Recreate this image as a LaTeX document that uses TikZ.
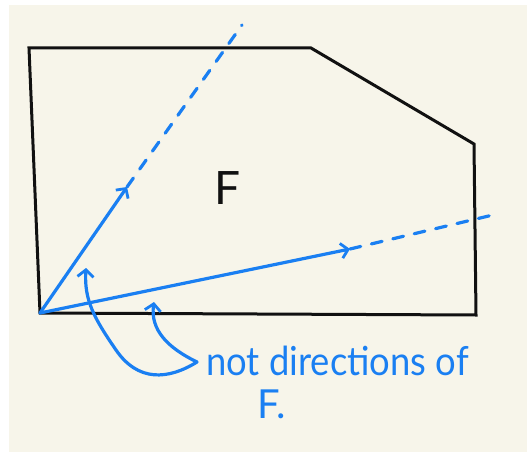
\documentclass[tikz,border=0pt]{standalone}
\usepackage{fontspec}
\setmainfont{Lato}
\usetikzlibrary{positioning,arrows.meta}
\definecolor{paper}{HTML}{F7F5EA}
\definecolor{pen}{HTML}{1A7FF2}
\definecolor{ink}{HTML}{111111}

\begin{document}
\begin{tikzpicture}[x=1pt,y=-1pt,
    edge/.style={draw=ink,line width=3pt,line join=miter},
    ray/.style={draw=pen,line width=3.2pt,line cap=round,-{Straight Barb[length=7pt,width=15pt,line width=2.8pt]}},
    raydash/.style={draw=pen,line width=3.2pt,line cap=round,dash pattern=on 11pt off 11pt},
    note/.style={draw=pen,line width=3.2pt,line cap=round,-{Straight Barb[length=7pt,width=16pt,line width=2.8pt]}},
    hand/.style={text=pen,inner sep=0pt,font=\fontsize{40}{44}\selectfont}]
  \useasboundingbox (0,0) rectangle (527,452);
  \fill[white] (0,0) rectangle (527,452);
  \fill[paper] (9,5) rectangle (527,452);

  % the face F
  \draw[edge] (29,48) -- (311,48) -- (474,144) -- (476,315) -- (40,313) -- cycle;
  \node[text=ink,font=\fontsize{46}{50}\selectfont] (face) at (228,188) {F};

  % two rays from the corner
  \coordinate (o) at (40,313);
  \coordinate (tipa) at (127,187);
  \coordinate (enda) at (242,25);
  \coordinate (tipb) at (350,249);
  \coordinate (endb) at (497,214);
  \draw[ray] (o) -- (tipa);
  \draw[raydash] (tipa) -- (enda);
  \draw[ray] (o) -- (tipb);
  \draw[raydash] (tipb) -- (endb);

  % the remark
  \node[hand,anchor=base west,xscale=0.91] (lbl) at (206,375) {not directions of};
  \node[hand,anchor=base west] (lblb) at (257,418) {F.};
  \coordinate (fork) at (197,362);
  \draw[note] (fork) .. controls (168,380) and (138,382) .. (116,350)
    .. controls (94,318) and (84,300) .. (86,268);
  \draw[note] (fork) .. controls (168,348) and (150,330) .. (154,302);
\end{tikzpicture}
\end{document}
